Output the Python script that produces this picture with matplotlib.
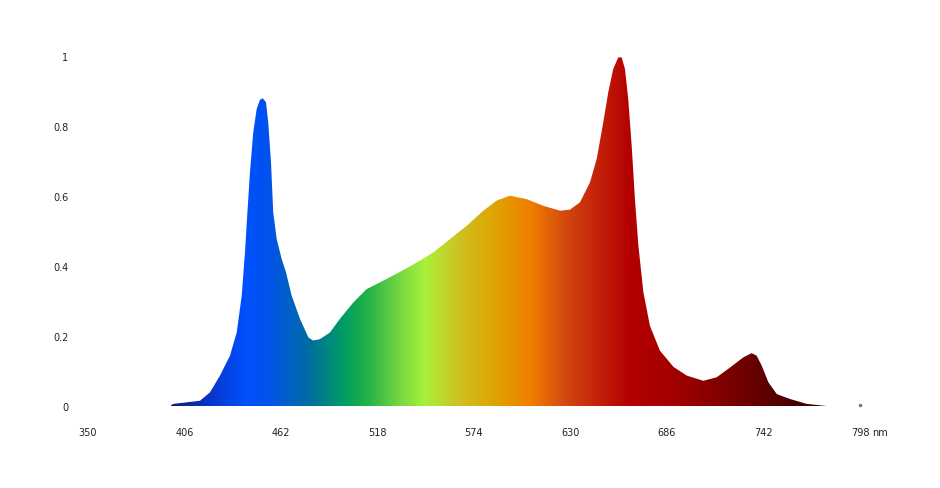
import matplotlib
matplotlib.use("Agg")
import matplotlib.pyplot as plt
import numpy as np
from matplotlib.colors import LinearSegmentedColormap
from matplotlib.patches import Polygon

# spectrum (wavelength nm, relative intensity)
wavelength = [397.5, 399.5, 415.0, 420.8, 426.6, 432.4, 436.3, 439.2, 441.1, 442.5,
              444.0, 445.9, 447.9, 449.8, 451.4, 453.3, 454.6, 456.2, 457.5, 459.5,
              462.4, 464.9, 468.2, 473.0, 477.9, 480.7, 484.6, 490.4, 496.2, 504.0,
              511.7, 523.3, 534.0, 540.8, 550.4, 560.1, 569.8, 579.4, 587.2, 594.9,
              604.6, 614.2, 623.9, 629.7, 635.5, 641.3, 645.2, 649.0, 651.9, 654.8,
              657.7, 659.7, 661.6, 663.5, 665.5, 667.4, 669.4, 672.3, 676.1, 681.9,
              689.7, 697.4, 707.1, 714.8, 722.6, 730.3, 735.1, 738.0, 741.0, 744.8,
              749.7, 757.4, 767.1, 778.6]
intensity = [0.0, 0.006, 0.015, 0.039, 0.087, 0.144, 0.21, 0.315, 0.44, 0.553,
             0.668, 0.782, 0.849, 0.875, 0.879, 0.868, 0.81, 0.696, 0.553, 0.477,
             0.42, 0.382, 0.315, 0.249, 0.196, 0.187, 0.191, 0.21, 0.249, 0.296,
             0.334, 0.363, 0.391, 0.41, 0.439, 0.477, 0.515, 0.558, 0.587, 0.601,
             0.591, 0.572, 0.558, 0.561, 0.582, 0.639, 0.706, 0.81, 0.896, 0.963,
             0.996, 0.996, 0.963, 0.877, 0.744, 0.591, 0.458, 0.325, 0.229, 0.158,
             0.112, 0.087, 0.072, 0.082, 0.11, 0.139, 0.151, 0.144, 0.115, 0.068,
             0.034, 0.02, 0.006, 0.0]

# colour stops of the fill (nm, colour)
stop_nm = [398, 415, 440, 452, 468, 480, 499, 513, 531, 545, 566, 588, 606, 630,
           664, 693, 728, 752, 780]
stop_colors = ["#141c7a", "#0a2fb8", "#0050ff", "#0052f0", "#0062c0", "#00729a",
               "#00a060", "#28b448", "#78d840", "#aaf03c", "#d0c020", "#e0a000",
               "#f08000", "#d04010", "#b40000", "#a00000", "#720000", "#520000",
               "#300000"]

xticks = [350, 406, 462, 518, 574, 630, 686, 742, 798]
yticks = [0, 0.2, 0.4, 0.6, 0.8, 1]
ytick_labels = ["0", "0.2", "0.4", "0.6", "0.8", "1"]

lo, hi = stop_nm[0], stop_nm[-1]
cmap = LinearSegmentedColormap.from_list(
    "spec", [((n - lo) / (hi - lo), c) for n, c in zip(stop_nm, stop_colors)])

fig = plt.figure(figsize=(9.4, 4.89), dpi=100)
ymax = 1.05
ax = fig.add_axes([88 / 940, (489 - 407) / 489, 772 / 940, 350 * ymax / 489])
ax.set_xlim(350, 798)
ax.set_ylim(0, ymax)

grad = np.linspace(0, 1, 512).reshape(1, -1)
img = ax.imshow(grad, cmap=cmap, aspect="auto", extent=[lo, hi, 0, 1.0],
                origin="lower", interpolation="bilinear", zorder=2)
verts = list(zip(wavelength, intensity)) + [(wavelength[-1], 0), (wavelength[0], 0)]
poly = Polygon(verts, closed=True, facecolor="none", edgecolor="none")
ax.add_patch(poly)
img.set_clip_path(poly)

ax.plot([798], [0.002], marker="o", ms=1.5, color="#777777", clip_on=False)

for s in ax.spines.values():
    s.set_visible(False)
ax.set_xticks(xticks)
ax.set_xticklabels([str(t) for t in xticks])
ax.set_yticks(yticks)
ax.set_yticklabels(ytick_labels)
ax.tick_params(axis="both", length=0, labelsize=7, colors="#222222")
ax.tick_params(axis="x", pad=15)
ax.tick_params(axis="y", pad=14)
ax.annotate("nm", xy=(798, 0), xycoords="data", xytext=(9, -15),
            textcoords="offset points", fontsize=7, color="#222222",
            ha="left", va="top")

fig.savefig("out.png", dpi=100)
